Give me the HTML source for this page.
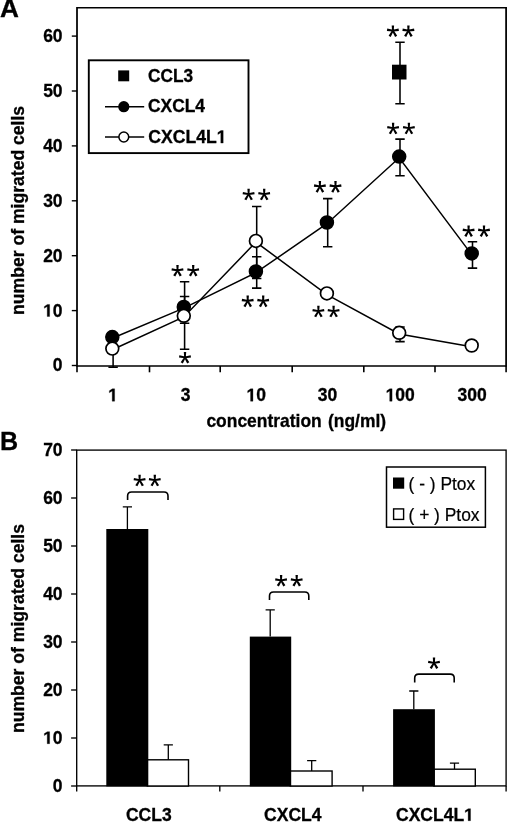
<!DOCTYPE html><html lang="en"><head><meta charset="utf-8"><title>Figure</title><style>html,body{margin:0;padding:0;background:#fff}svg{display:block;filter:grayscale(1)}text{font-family:"Liberation Sans",sans-serif;fill:#000;stroke:#000;stroke-width:.2px}.b{font-weight:bold;stroke:#000;stroke-width:.3px}.h{fill:none;stroke:none}</style></head><body>
<svg width="520" height="831" viewBox="0 0 520 831">
<rect width="520" height="831" fill="#fff"/>
<defs><path id="s" d="M0.85 0.00L1.20 -5.30L-1.20 -5.30L-0.85 -0.00ZM0.13 0.84L6.02 0.26L5.64 -2.11L-0.13 -0.84ZM0.13 -0.84L-5.64 -2.11L-6.02 0.26L-0.13 0.84ZM-0.74 0.43L2.21 6.23L4.29 5.03L0.74 -0.43ZM-0.74 -0.42L-4.29 5.03L-2.21 6.23L0.74 0.42Z" fill="#000"/><circle id="sh" r="1.2"/></defs>
<path d="M77.0 7.0V366.7M506.1 7.0V366.7" stroke="#000" stroke-width="1.75" fill="none"/>
<path d="M77.0 7.7H506.1M77.0 366.0H506.1" stroke="#000" stroke-width="1.4" fill="none"/>
<line x1="71.8" y1="365.5" x2="77.0" y2="365.5" stroke="#000" stroke-width="1.4"/>
<text class="b" transform="translate(62.6 371.4) scale(1 1.001)" font-size="17.5" text-anchor="end">0</text>
<line x1="71.8" y1="310.6" x2="77.0" y2="310.6" stroke="#000" stroke-width="1.4"/>
<text class="b" transform="translate(62.6 316.5) scale(1 1.001)" font-size="17.5" text-anchor="end"><tspan class="h">1</tspan>0</text>
<line x1="71.8" y1="255.7" x2="77.0" y2="255.7" stroke="#000" stroke-width="1.4"/>
<text class="b" transform="translate(62.6 261.6) scale(1 1.001)" font-size="17.5" text-anchor="end">20</text>
<line x1="71.8" y1="200.8" x2="77.0" y2="200.8" stroke="#000" stroke-width="1.4"/>
<text class="b" transform="translate(62.6 206.7) scale(1 1.001)" font-size="17.5" text-anchor="end">30</text>
<line x1="71.8" y1="145.9" x2="77.0" y2="145.9" stroke="#000" stroke-width="1.4"/>
<text class="b" transform="translate(62.6 151.8) scale(1 1.001)" font-size="17.5" text-anchor="end">40</text>
<line x1="71.8" y1="91.0" x2="77.0" y2="91.0" stroke="#000" stroke-width="1.4"/>
<text class="b" transform="translate(62.6 96.9) scale(1 1.001)" font-size="17.5" text-anchor="end">50</text>
<line x1="71.8" y1="36.1" x2="77.0" y2="36.1" stroke="#000" stroke-width="1.4"/>
<text class="b" transform="translate(62.6 42.0) scale(1 1.001)" font-size="17.5" text-anchor="end">60</text>
<line x1="77.0" y1="366.0" x2="77.0" y2="372.3" stroke="#000" stroke-width="1.6"/>
<line x1="149.5" y1="366.0" x2="149.5" y2="372.3" stroke="#000" stroke-width="1.6"/>
<line x1="220.2" y1="366.0" x2="220.2" y2="372.3" stroke="#000" stroke-width="1.6"/>
<line x1="292.2" y1="366.0" x2="292.2" y2="372.3" stroke="#000" stroke-width="1.6"/>
<line x1="363.8" y1="366.0" x2="363.8" y2="372.3" stroke="#000" stroke-width="1.6"/>
<line x1="435.0" y1="366.0" x2="435.0" y2="372.3" stroke="#000" stroke-width="1.6"/>
<line x1="506.1" y1="366.0" x2="506.1" y2="372.3" stroke="#000" stroke-width="1.6"/>
<text class="b" transform="translate(113.0 401.2) scale(1 1.03)" font-size="17.5" text-anchor="middle"><tspan class="h">1</tspan></text>
<text class="b" transform="translate(185.5 401.2) scale(1 1.03)" font-size="17.5" text-anchor="middle">3</text>
<text class="b" transform="translate(256.2 401.2) scale(1 1.03)" font-size="17.5" text-anchor="middle"><tspan class="h">1</tspan>0</text>
<text class="b" transform="translate(327.4 401.2) scale(1 1.03)" font-size="17.5" text-anchor="middle">30</text>
<text class="b" transform="translate(400.2 401.2) scale(1 1.03)" font-size="17.5" text-anchor="middle"><tspan class="h">1</tspan>00</text>
<text class="b" transform="translate(472.1 401.2) scale(1 1.03)" font-size="17.5" text-anchor="middle">300</text>
<text class="b" transform="translate(206.4 427.1) scale(1 1.055)" font-size="17.45" word-spacing="1.4">concentration (ng/ml)</text>
<text class="b" transform="translate(23.6 210.4) rotate(-90) scale(1 1.04)" font-size="17.6" text-anchor="middle">number of migrated cells</text>
<text class="b" transform="translate(0 17.3) scale(1 1.001)" font-size="26.2">A</text>
<polyline fill="none" stroke="#000" stroke-width="1.5" points="112.3,338.3 183.8,308.1 255.9,272.7 326.9,223.7 399.2,157.8 471.7,254.6"/>
<polyline fill="none" stroke="#000" stroke-width="1.5" points="112.3,349.8 183.8,317.0 255.9,242.1 326.9,294.6 399.2,334.0 471.7,346.7"/>
<path d="M184.6 281.8V323.2M179.9 281.8H189.3M179.9 323.2H189.3" stroke="#000" stroke-width="1.55" fill="none"/>
<path d="M256.7 256.7V288.1M252.0 256.7H261.4M252.0 288.1H261.4" stroke="#000" stroke-width="1.55" fill="none"/>
<path d="M327.7 198.6V246.8M323.0 198.6H332.4M323.0 246.8H332.4" stroke="#000" stroke-width="1.55" fill="none"/>
<path d="M400.0 139.1V175.8M395.3 139.1H404.7M395.3 175.8H404.7" stroke="#000" stroke-width="1.55" fill="none"/>
<path d="M472.5 241.8V268.1M467.8 241.8H477.2M467.8 268.1H477.2" stroke="#000" stroke-width="1.55" fill="none"/>
<path d="M113.1 338V367.2M108.4 338H117.8M108.4 367.2H117.8" stroke="#000" stroke-width="1.55" fill="none"/>
<path d="M184.6 296.5V349.3M179.9 296.5H189.3M179.9 349.3H189.3" stroke="#000" stroke-width="1.55" fill="none"/>
<path d="M256.7 206.4V278.5M252.0 206.4H261.4M252.0 278.5H261.4" stroke="#000" stroke-width="1.55" fill="none"/>
<path d="M400.0 327V341.6M395.3 327H404.7M395.3 341.6H404.7" stroke="#000" stroke-width="1.55" fill="none"/>
<path d="M400.0 42.3V103.7M395.3 42.3H404.7M395.3 103.7H404.7" stroke="#000" stroke-width="1.55" fill="none"/>
<circle cx="112.3" cy="337.1" r="6.5" fill="#000" stroke="#000" stroke-width="1.5"/>
<circle cx="183.8" cy="306.9" r="6.5" fill="#000" stroke="#000" stroke-width="1.5"/>
<circle cx="255.9" cy="271.5" r="6.5" fill="#000" stroke="#000" stroke-width="1.5"/>
<circle cx="326.9" cy="222.5" r="6.5" fill="#000" stroke="#000" stroke-width="1.5"/>
<circle cx="399.2" cy="156.6" r="6.5" fill="#000" stroke="#000" stroke-width="1.5"/>
<circle cx="471.7" cy="253.4" r="6.5" fill="#000" stroke="#000" stroke-width="1.5"/>
<circle cx="112.3" cy="348.6" r="6.4" fill="#fff" stroke="#000" stroke-width="1.7"/>
<circle cx="183.8" cy="315.8" r="6.4" fill="#fff" stroke="#000" stroke-width="1.7"/>
<circle cx="255.9" cy="240.9" r="6.4" fill="#fff" stroke="#000" stroke-width="1.7"/>
<circle cx="326.9" cy="293.4" r="6.4" fill="#fff" stroke="#000" stroke-width="1.7"/>
<circle cx="399.2" cy="332.8" r="6.4" fill="#fff" stroke="#000" stroke-width="1.7"/>
<circle cx="471.7" cy="345.5" r="6.4" fill="#fff" stroke="#000" stroke-width="1.7"/>
<rect x="392" y="64.7" width="14.5" height="14.8" fill="#000"/>
<use href="#s" x="392.9" y="30.7"/><use href="#sh" x="392.9" y="30.7"/>
<use href="#s" x="408.4" y="30.7"/><use href="#sh" x="408.4" y="30.7"/>
<use href="#s" x="393.1" y="128.1"/><use href="#sh" x="393.1" y="128.1"/>
<use href="#s" x="408.9" y="128.1"/><use href="#sh" x="408.9" y="128.1"/>
<use href="#s" x="177.5" y="270.3"/><use href="#sh" x="177.5" y="270.3"/>
<use href="#s" x="193.2" y="270.3"/><use href="#sh" x="193.2" y="270.3"/>
<use href="#s" x="185.0" y="357.3"/><use href="#sh" x="185.0" y="357.3"/>
<use href="#s" x="248.6" y="194.1"/><use href="#sh" x="248.6" y="194.1"/>
<use href="#s" x="264.2" y="194.1"/><use href="#sh" x="264.2" y="194.1"/>
<use href="#s" x="247.7" y="300.9"/><use href="#sh" x="247.7" y="300.9"/>
<use href="#s" x="263.2" y="300.9"/><use href="#sh" x="263.2" y="300.9"/>
<use href="#s" x="319.9" y="186.4"/><use href="#sh" x="319.9" y="186.4"/>
<use href="#s" x="335.5" y="186.4"/><use href="#sh" x="335.5" y="186.4"/>
<use href="#s" x="318.4" y="311.1"/><use href="#sh" x="318.4" y="311.1"/>
<use href="#s" x="333.6" y="311.1"/><use href="#sh" x="333.6" y="311.1"/>
<use href="#s" x="468.6" y="230.7"/><use href="#sh" x="468.6" y="230.7"/>
<use href="#s" x="484.0" y="230.7"/><use href="#sh" x="484.0" y="230.7"/>
<rect x="88.8" y="60.3" width="159.7" height="92.8" fill="#fff" stroke="#000" stroke-width="1.9"/>
<rect x="118.2" y="70.4" width="11" height="10.9" fill="#000"/>
<text class="b" transform="translate(148 81.9) scale(1 1.055)" font-size="17.3">CCL3</text>
<line x1="105" y1="106.7" x2="144.2" y2="106.7" stroke="#000" stroke-width="1.55"/><circle cx="123.8" cy="106.7" r="5.6" fill="#000"/>
<text class="b" transform="translate(148 112.4) scale(1 1.055)" font-size="17.4">CXCL4</text>
<line x1="105" y1="137" x2="144.2" y2="137" stroke="#000" stroke-width="1.55"/><circle cx="123.8" cy="137" r="4.9" fill="#fff" stroke="#000" stroke-width="1.5"/>
<text class="b" transform="translate(148.3 143.1) scale(1 1.04)" font-size="17.6">CXCL4L<tspan class="h">1</tspan></text>
<rect x="76.7" y="450.1" width="429.4" height="335.79999999999995" fill="none" stroke="#000" stroke-width="1.35"/>
<line x1="71.10000000000001" y1="786.0" x2="76.7" y2="786.0" stroke="#000" stroke-width="1.35"/>
<text class="b" transform="translate(62.6 791.7) scale(1 1.001)" font-size="17.5" text-anchor="end">0</text>
<line x1="71.10000000000001" y1="738.0" x2="76.7" y2="738.0" stroke="#000" stroke-width="1.35"/>
<text class="b" transform="translate(62.6 743.7) scale(1 1.001)" font-size="17.5" text-anchor="end"><tspan class="h">1</tspan>0</text>
<line x1="71.10000000000001" y1="690.0" x2="76.7" y2="690.0" stroke="#000" stroke-width="1.35"/>
<text class="b" transform="translate(62.6 695.7) scale(1 1.001)" font-size="17.5" text-anchor="end">20</text>
<line x1="71.10000000000001" y1="642.0" x2="76.7" y2="642.0" stroke="#000" stroke-width="1.35"/>
<text class="b" transform="translate(62.6 647.7) scale(1 1.001)" font-size="17.5" text-anchor="end">30</text>
<line x1="71.10000000000001" y1="594.0" x2="76.7" y2="594.0" stroke="#000" stroke-width="1.35"/>
<text class="b" transform="translate(62.6 599.7) scale(1 1.001)" font-size="17.5" text-anchor="end">40</text>
<line x1="71.10000000000001" y1="546.0" x2="76.7" y2="546.0" stroke="#000" stroke-width="1.35"/>
<text class="b" transform="translate(62.6 551.7) scale(1 1.001)" font-size="17.5" text-anchor="end">50</text>
<line x1="71.10000000000001" y1="498.0" x2="76.7" y2="498.0" stroke="#000" stroke-width="1.35"/>
<text class="b" transform="translate(62.6 503.7) scale(1 1.001)" font-size="17.5" text-anchor="end">60</text>
<line x1="71.10000000000001" y1="450.0" x2="76.7" y2="450.0" stroke="#000" stroke-width="1.35"/>
<text class="b" transform="translate(62.6 455.7) scale(1 1.001)" font-size="17.5" text-anchor="end">70</text>
<line x1="76.7" y1="785.9" x2="76.7" y2="791.4" stroke="#000" stroke-width="1.35"/>
<line x1="219.8" y1="785.9" x2="219.8" y2="791.4" stroke="#000" stroke-width="1.35"/>
<line x1="363.0" y1="785.9" x2="363.0" y2="791.4" stroke="#000" stroke-width="1.35"/>
<line x1="506.1" y1="785.9" x2="506.1" y2="791.4" stroke="#000" stroke-width="1.35"/>
<text class="b" transform="translate(148.8 820.7) scale(1 1.0)" font-size="17.5" text-anchor="middle">CCL3</text>
<text class="b" transform="translate(292.8 820.7) scale(1 1.0)" font-size="17.5" text-anchor="middle">CXCL4</text>
<text class="b" transform="translate(434.9 820.7) scale(1 1.0)" font-size="17.5" text-anchor="middle">CXCL4L<tspan class="h">1</tspan></text>
<text class="b" transform="translate(23.6 628.5) rotate(-90) scale(1 1.04)" font-size="17.6" text-anchor="middle">number of migrated cells</text>
<text class="b" transform="translate(0.1 450.2) scale(1 1.03)" font-size="25.1">B</text>
<path d="M127.4 506.8V529M122.8 506.8H132.0" stroke="#000" stroke-width="1.3" fill="none"/>
<path d="M168.3 744.8V759.8M163.7 744.8H172.9" stroke="#000" stroke-width="1.3" fill="none"/>
<rect x="147.3" y="759.8" width="41.2" height="26.2" fill="#fff" stroke="#000" stroke-width="1.4"/>
<rect x="106.3" y="529" width="42.0" height="257.4" fill="#000"/>
<path d="M270.2 609.9V636.6M265.6 609.9H274.8" stroke="#000" stroke-width="1.3" fill="none"/>
<path d="M311.7 760.6V771M307.1 760.6H316.3" stroke="#000" stroke-width="1.3" fill="none"/>
<rect x="290.2" y="771" width="41.9" height="15.0" fill="#fff" stroke="#000" stroke-width="1.4"/>
<rect x="249.8" y="636.6" width="41.4" height="149.8" fill="#000"/>
<path d="M413.8 691V709.2M409.2 691H418.4" stroke="#000" stroke-width="1.3" fill="none"/>
<path d="M454.5 763.2V769.2M449.9 763.2H459.1" stroke="#000" stroke-width="1.3" fill="none"/>
<rect x="433.9" y="769.2" width="41.4" height="16.8" fill="#fff" stroke="#000" stroke-width="1.4"/>
<rect x="393.1" y="709.2" width="41.8" height="77.2" fill="#000"/>
<path d="M127.6 500V496Q127.6 492 131.6 492H164Q168 492 168 496V500" fill="none" stroke="#000" stroke-width="1.6"/>
<use href="#s" x="139.6" y="480.1"/><use href="#sh" x="139.6" y="480.1"/>
<use href="#s" x="154.8" y="480.1"/><use href="#sh" x="154.8" y="480.1"/>
<path d="M269.5 600V596Q269.5 592 273.5 592H304.8Q308.8 592 308.8 596V600" fill="none" stroke="#000" stroke-width="1.6"/>
<use href="#s" x="281.1" y="580.3"/><use href="#sh" x="281.1" y="580.3"/>
<use href="#s" x="296.7" y="580.3"/><use href="#sh" x="296.7" y="580.3"/>
<path d="M414.7 682.4V678.1Q414.7 674.1 418.7 674.1H450.2Q454.2 674.1 454.2 678.1V682.4" fill="none" stroke="#000" stroke-width="1.6"/>
<use href="#s" x="434.0" y="662.8"/><use href="#sh" x="434.0" y="662.8"/>
<rect x="386.5" y="467" width="98.9" height="60.2" fill="#fff" stroke="#000" stroke-width="1.5"/>
<rect x="393" y="477.5" width="11.2" height="11.2" fill="#000"/>
<text transform="translate(408.5 490.2) scale(1 1.04)" font-size="17.4">( - ) Ptox</text>
<rect x="393.6" y="508.9" width="10" height="10.5" fill="#fff" stroke="#000" stroke-width="1.4"/>
<text transform="translate(408.5 520.7) scale(1 1.04)" font-size="17.4">( + ) Ptox</text>
<path transform="translate(62.6 316.5) scale(1 1.001) translate(-19.46 0.00) scale(0.00854 -0.00854)" d="M478 0V1170L140 959V1180L493 1409H759V0Z" fill="#000" stroke="#000" stroke-width=".3" vector-effect="non-scaling-stroke"/>
<path transform="translate(113.0 401.2) scale(1 1.03) translate(-4.86 0.00) scale(0.00854 -0.00854)" d="M478 0V1170L140 959V1180L493 1409H759V0Z" fill="#000" stroke="#000" stroke-width=".3" vector-effect="non-scaling-stroke"/>
<path transform="translate(256.2 401.2) scale(1 1.03) translate(-9.73 0.00) scale(0.00854 -0.00854)" d="M478 0V1170L140 959V1180L493 1409H759V0Z" fill="#000" stroke="#000" stroke-width=".3" vector-effect="non-scaling-stroke"/>
<path transform="translate(400.2 401.2) scale(1 1.03) translate(-14.59 0.00) scale(0.00854 -0.00854)" d="M478 0V1170L140 959V1180L493 1409H759V0Z" fill="#000" stroke="#000" stroke-width=".3" vector-effect="non-scaling-stroke"/>
<path transform="translate(148.3 143.1) scale(1 1.04) translate(68.38 0.00) scale(0.00859 -0.00859)" d="M478 0V1170L140 959V1180L493 1409H759V0Z" fill="#000" stroke="#000" stroke-width=".3" vector-effect="non-scaling-stroke"/>
<path transform="translate(62.6 743.7) scale(1 1.001) translate(-19.46 0.00) scale(0.00854 -0.00854)" d="M478 0V1170L140 959V1180L493 1409H759V0Z" fill="#000" stroke="#000" stroke-width=".3" vector-effect="non-scaling-stroke"/>
<path transform="translate(434.9 820.7) scale(1 1.0) translate(29.16 0.00) scale(0.00854 -0.00854)" d="M478 0V1170L140 959V1180L493 1409H759V0Z" fill="#000" stroke="#000" stroke-width=".3" vector-effect="non-scaling-stroke"/>
</svg></body></html>
